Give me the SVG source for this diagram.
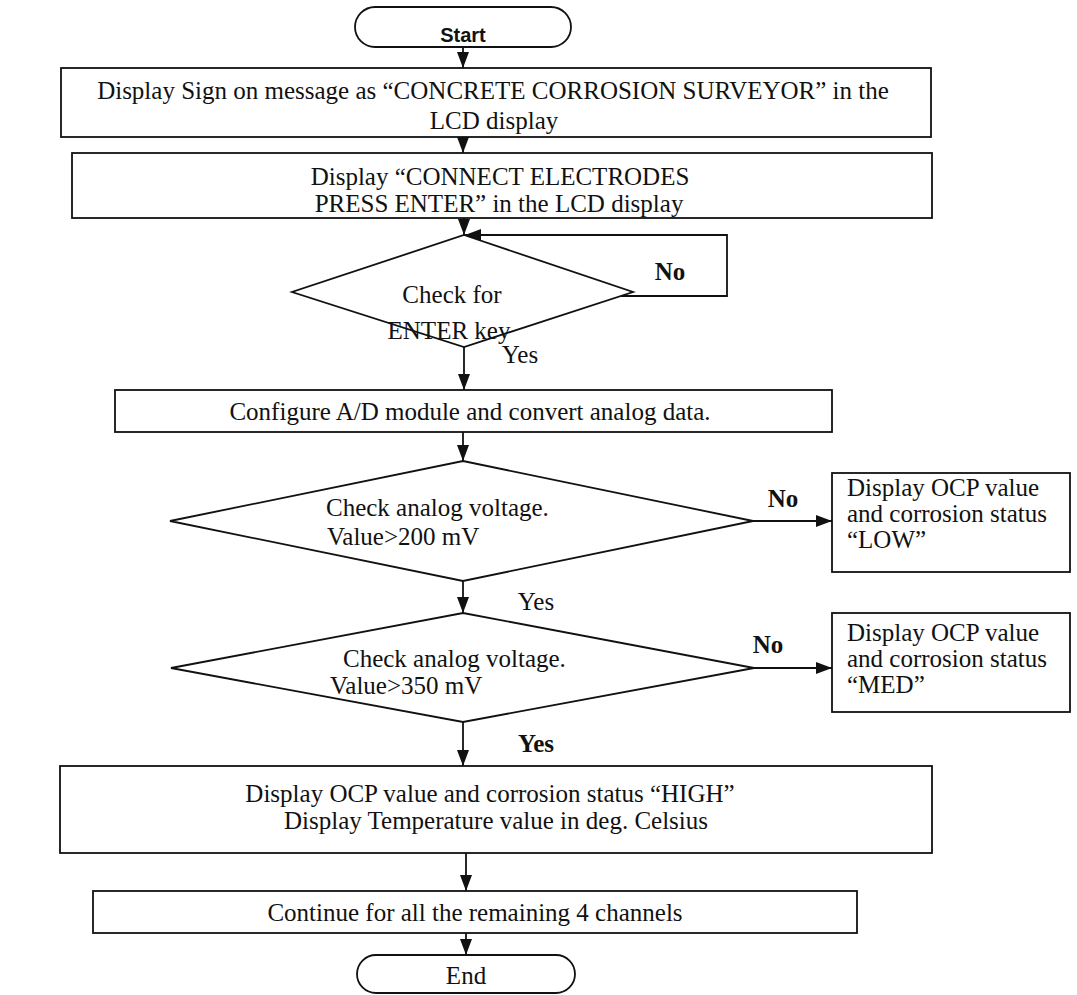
<svg xmlns="http://www.w3.org/2000/svg" width="1077" height="995" viewBox="0 0 1077 995">
<style>
.s{fill:#fff;stroke:#111;stroke-width:1.8}
.t{font-family:"Liberation Serif","Times New Roman",serif;font-size:25px;fill:#111}
.c{text-anchor:middle}
.b{font-weight:bold}
.ln{fill:none;stroke:#111;stroke-width:1.8}
</style>
<defs>
<marker id="ah" viewBox="0 0 16 12" refX="16" refY="6" markerWidth="16" markerHeight="12" markerUnits="userSpaceOnUse" orient="auto">
<path d="M0,0 L16,6 L0,12 Z" fill="#111"/>
</marker>
</defs>
<rect width="1077" height="995" fill="#fff"/>
<g id="connectors">
<path class="ln" d="M463,47 V68" marker-end="url(#ah)"/>
<path class="ln" d="M463,137 V153" marker-end="url(#ah)"/>
<path class="ln" d="M464,218 V235" marker-end="url(#ah)"/>
<path class="ln" d="M621,296 H727 V235 H465" marker-end="url(#ah)"/>
<path class="ln" d="M464,347 V390" marker-end="url(#ah)"/>
<path class="ln" d="M463,432 V461" marker-end="url(#ah)"/>
<path class="ln" d="M753,521 H832" marker-end="url(#ah)"/>
<path class="ln" d="M463,581 V613" marker-end="url(#ah)"/>
<path class="ln" d="M754,668 H832" marker-end="url(#ah)"/>
<path class="ln" d="M463,722 V766" marker-end="url(#ah)"/>
<path class="ln" d="M466,853 V891" marker-end="url(#ah)"/>
<path class="ln" d="M466,933 V955" marker-end="url(#ah)"/>
<text class="t b" x="670" y="280" text-anchor="middle">No</text>
<text class="t" x="520" y="363" text-anchor="middle">Yes</text>
<text class="t b" x="783" y="507" text-anchor="middle">No</text>
<text class="t" x="536" y="610" text-anchor="middle">Yes</text>
<text class="t b" x="768" y="653" text-anchor="middle">No</text>
<text class="t b" x="536" y="752" text-anchor="middle">Yes</text>
</g>
<g id="start">
<rect class="s" x="355" y="7" width="216" height="40" rx="20" ry="20"/>
<text x="463" y="42" text-anchor="middle" style="font-family:'Liberation Sans',Arial,sans-serif;font-size:20px;font-weight:bold;fill:#111">Start</text>
</g>
<g id="box-signon">
<rect class="s" x="61" y="68" width="870" height="69"/>
<text class="t c" x="493" y="99">Display Sign on message as “CONCRETE CORROSION SURVEYOR” in the</text>
<text class="t c" x="494" y="129">LCD display</text>
</g>
<g id="box-connect">
<rect class="s" x="72" y="153" width="860" height="65"/>
<text class="t c" x="500" y="185">Display “CONNECT ELECTRODES</text>
<text class="t c" x="499" y="212">PRESS ENTER” in the LCD display</text>
</g>
<g id="dec-enter">
<polygon class="s" points="464,235 633,292 464,347 292,292"/>
<text class="t c" x="452" y="303">Check for</text>
<text class="t c" x="449" y="339">ENTER key</text>
</g>
<g id="box-configure">
<rect class="s" x="115" y="390" width="717" height="42"/>
<text class="t c" x="470" y="420">Configure A/D module and convert analog data.</text>
</g>
<g id="dec-200">
<polygon class="s" points="463,461 753,521 463,581 170,521"/>
<text class="t" x="326" y="516">Check analog voltage.</text>
<text class="t" x="327" y="545">Value&gt;200 mV</text>
</g>
<g id="box-low">
<rect class="s" x="832" y="473" width="238" height="99"/>
<text class="t" x="847" y="496">Display OCP value</text>
<text class="t" x="847" y="522">and corrosion status</text>
<text class="t" x="847" y="548">“LOW”</text>
</g>
<g id="dec-350">
<polygon class="s" points="463,613 754,668 463,722 171,668"/>
<text class="t" x="343" y="667">Check analog voltage.</text>
<text class="t" x="330" y="694">Value&gt;350 mV</text>
</g>
<g id="box-med">
<rect class="s" x="832" y="613" width="238" height="99"/>
<text class="t" x="847" y="641">Display OCP value</text>
<text class="t" x="847" y="667">and corrosion status</text>
<text class="t" x="847" y="693">“MED”</text>
</g>
<g id="box-high">
<rect class="s" x="60" y="766" width="872" height="87"/>
<text class="t c" x="490" y="802">Display OCP value and corrosion status “HIGH”</text>
<text class="t c" x="496" y="829">Display Temperature value in deg. Celsius</text>
</g>
<g id="box-continue">
<rect class="s" x="93" y="891" width="764" height="42"/>
<text class="t c" x="475" y="921">Continue for all the remaining 4 channels</text>
</g>
<g id="end">
<rect class="s" x="357" y="955" width="218" height="38" rx="19" ry="19"/>
<text class="t c" x="466" y="984">End</text>
</g>
</svg>
